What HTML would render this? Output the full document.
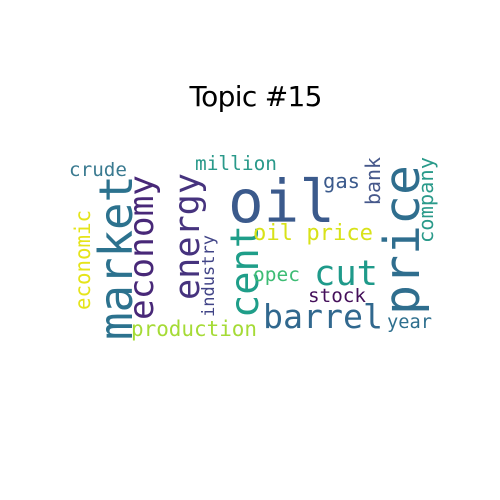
<!DOCTYPE html>
<html><head><meta charset="utf-8"><style>
html,body{margin:0;padding:0;background:#fff;}
svg{display:block;}
text.w{font-family:"DejaVu Sans Mono","Liberation Mono",monospace;}
</style></head><body>
<svg id="chart" width="500" height="500" viewBox="0 0 500 500">
<rect width="500" height="500" fill="#fff"/>
<text x="256" y="106" text-anchor="middle" font-family="DejaVu Sans, Liberation Sans, sans-serif" font-size="28" textLength="133" fill="#000">Topic #15</text>
<g id="cloud"></g>
</svg>
<script>
// words, font sizes, colors, orientation (0 = horizontal, 1 = vertical)
const words = ["oil","price","market","economy","energy","cent","cut","barrel","oil price","million","crude","gas","bank","company","economic","industry","opec","stock","production","year"];
const sizes = [59,49,46,34,35,39,35,33,22,19.5,19,20,20,20,21,17,19.5,19,21,19];
const colors = ["#3b5a8c","#2f6e8e","#2c728e","#482878","#46337e","#1f9e89","#1f9a8a","#31688e","#d8e219","#2a998a","#3a7a90","#3b5a8c","#46588b","#2a9a8a","#e5e419","#414487","#3dbc74","#440f5a","#a5db36","#2e6f8e"];
const vertical = [0,1,1,1,1,1,0,0,0,0,0,0,1,1,1,1,0,0,0,0];
// layout placement (anchor x, anchor y, rendered length)
const ax = [228,419,132,153,199,258,314,263,253,195,69,323,380,433,90,214,253,308,131,387];
const ay = [222,315,340,320,300,318,285,328,240,170,176,188,205,243,310,317,281,302,336,328];
const len = [107,150,165,145,127,93,64,120,120,82,58,37,48,86,100,82,47,58,126,45];
const g = document.getElementById('cloud');
const NS = 'http://www.w3.org/2000/svg';
for (let i = 0; i < words.length; i++) {
  const t = document.createElementNS(NS, 'text');
  t.setAttribute('class', 'w');
  t.setAttribute('font-size', sizes[i]);
  t.setAttribute('fill', colors[i]);
  t.setAttribute('textLength', len[i]);
  t.setAttribute('lengthAdjust', 'spacingAndGlyphs');
  if (vertical[i]) {
    t.setAttribute('transform', 'translate(' + ax[i] + ',' + ay[i] + ') rotate(-90)');
  } else {
    t.setAttribute('x', ax[i]);
    t.setAttribute('y', ay[i]);
  }
  t.textContent = words[i];
  
  
  g.appendChild(t);
}
</script>
</body></html>
